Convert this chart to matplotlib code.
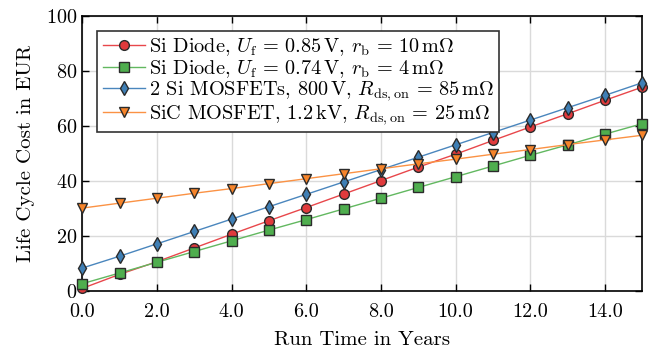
import numpy as np
import matplotlib
matplotlib.use("Agg")
import matplotlib.pyplot as plt

plt.rcParams['font.family'] = 'serif'
plt.rcParams['font.serif'] = ['cmr10']
plt.rcParams['mathtext.fontset'] = 'cm'
plt.rcParams['axes.formatter.use_mathtext'] = True

# data
years = [0, 1, 2, 3, 4, 5, 6, 7, 8, 9, 10, 11, 12, 13, 14, 15]
si_diode_085 = [0.8, 5.9, 10.5, 15.5, 20.5, 25.4, 30.2, 35.1, 40.0, 44.9, 49.6, 54.6, 59.5, 64.3, 69.2, 74.0]
si_diode_074 = [2.5, 6.4, 10.3, 14.2, 18.1, 22.0, 25.8, 29.7, 33.6, 37.5, 41.4, 45.3, 49.2, 53.0, 56.9, 60.7]
si_mosfets = [8.2, 12.5, 17.0, 21.5, 26.0, 30.5, 35.0, 39.5, 44.0, 48.5, 53.0, 57.5, 62.0, 66.5, 71.0, 75.6]
sic_mosfet = [30.0, 31.8, 33.6, 35.4, 37.1, 38.9, 40.7, 42.5, 44.3, 46.1, 47.8, 49.6, 51.3, 53.1, 54.8, 56.5]

labels = [
    r'Si Diode, $U_\mathrm{f}\,=\,0.85\,\mathrm{V}$, $r_\mathrm{b}\,=\,10\,\mathrm{m\Omega}$',
    r'Si Diode, $U_\mathrm{f}\,=\,0.74\,\mathrm{V}$, $r_\mathrm{b}\,=\,4\,\mathrm{m\Omega}$',
    r'2 Si MOSFETs, $800\,\mathrm{V}$, $R_\mathrm{ds,on}\,=\,85\,\mathrm{m\Omega}$',
    r'SiC MOSFET, $1.2\,\mathrm{kV}$, $R_\mathrm{ds,on}\,=\,25\,\mathrm{m\Omega}$',
]
series = [si_diode_085, si_diode_074, si_mosfets, sic_mosfet]
colors = ['#e03a3c', '#4fae4e', '#3f7fb5', '#f6842a']
line_colors = ['#e8474b', '#62b860', '#4a86bd', '#fb9244']
markers = ['o', 's', 'd', 'v']

fig, ax = plt.subplots(figsize=(6.58, 3.48), dpi=100)
for y, lab, c, lc, m in zip(series, labels, colors, line_colors, markers):
    ax.plot(years, y, color=lc, lw=1.0, marker=m, markersize=7,
            markerfacecolor=c, markeredgecolor='#2b2b2b', markeredgewidth=1.0,
            label=lab, clip_on=False, zorder=3)

ax.set_xlim(0, 15)
ax.set_ylim(0, 100)
ax.set_xticks(np.arange(0, 15, 2))
ax.set_xticklabels(['%.1f' % v for v in np.arange(0, 15, 2)])
ax.set_yticks(np.arange(0, 101, 20))
ax.grid(True, color='#dadada', lw=1.0)
ax.set_axisbelow(True)
ax.tick_params(direction='in', top=True, right=True, length=5, width=1.0, labelsize=14.5)
ax.tick_params(axis='x', pad=9)
for s in ax.spines.values():
    s.set_linewidth(1.2)

ax.set_xlabel('Run Time in Years', fontsize=15, labelpad=7)
ax.set_ylabel('Life Cycle Cost in EUR', fontsize=15, labelpad=8)

leg = ax.legend(loc='upper left', fontsize=14.6, handlelength=2.1, handletextpad=0.2,
                labelspacing=0.0, borderpad=0.25, borderaxespad=0.75, fancybox=False,
                framealpha=1.0, edgecolor='#333333')
leg.get_frame().set_linewidth(1.2)

plt.subplots_adjust(left=0.125, right=0.976, top=0.955, bottom=0.165)
fig.savefig('out.png', dpi=100)
